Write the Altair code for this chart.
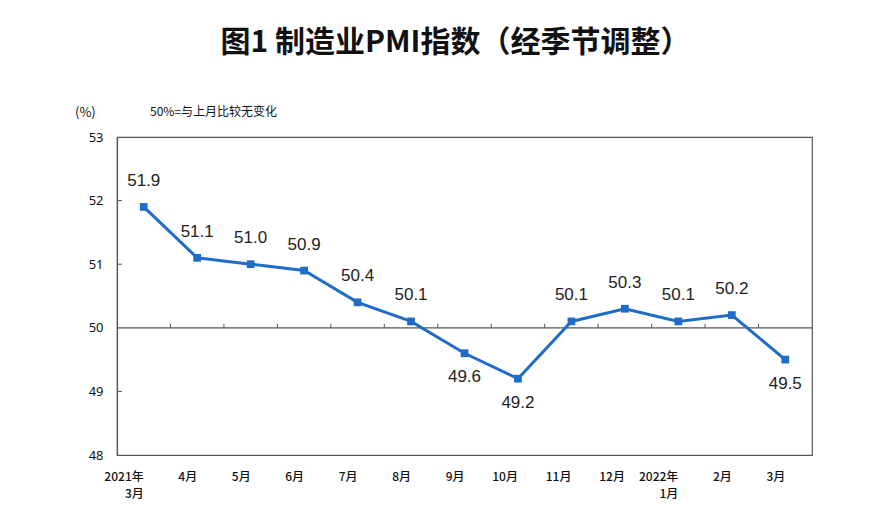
import altair as alt
import pandas as pd

months = ["2021年|3月", "4月", "5月", "6月", "7月", "8月", "9月", "10月", "11月", "12月", "2022年|1月", "2月", "3月"]
pmi = [51.9, 51.1, 51.0, 50.9, 50.4, 50.1, 49.6, 49.2, 50.1, 50.3, 50.1, 50.2, 49.5]
y_ticks = [48, 49, 50, 51, 52, 53]
inner_ticks = [49, 51, 52]
title_text = "图1 制造业PMI指数（经季节调整）"
unit_text = "(%)"
note_text = "50%=与上月比较无变化"

df = pd.DataFrame({"m": months, "v": pmi})
blue = "#1f6dc6"
cjk = "Noto Sans CJK SC"

yscale = alt.Scale(domain=[48, 53], nice=False, zero=False)
x = alt.X("m:N", sort=months, title=None,
          scale=alt.Scale(type="band", paddingInner=0, paddingOuter=0),
          axis=alt.Axis(labelAngle=0, domain=False, ticks=False, labelPadding=16,
                        labelExpr="split(datum.label, '|')", labelFont=cjk,
                        labelFontSize=12, labelFontWeight=500, labelColor="#111",
                        labelLineHeight=17, labelBaseline="top"))
yaxis = alt.Axis(values=y_ticks, format="d", domain=True, domainColor="#555", domainWidth=1.2,
                 ticks=False, grid=False, labelPadding=14, labelFont="Noto Sans",
                 labelFontSize=13, labelColor="#111")
y = alt.Y("v:Q", title=None, scale=yscale, axis=yaxis)

base = alt.Chart(df)

ref50 = alt.Chart(pd.DataFrame({"r": [50]})).mark_rule(color="#555", strokeWidth=1.2).encode(
    y=alt.Y("r:Q", title=None, scale=yscale, axis=yaxis))

bticks = alt.Chart(pd.DataFrame({"m": months[1:]})).mark_rule(color="#555", y2Offset=-4).encode(
    x=alt.X("m:N", sort=months, bandPosition=0), y=alt.datum(50), y2=alt.datum(50))

lticks = alt.Chart(pd.DataFrame({"t": inner_ticks})).mark_rule(color="#555").encode(
    y=alt.Y("t:Q"), x=alt.value(0), x2=alt.value(5))

line = base.mark_line(color=blue, strokeWidth=3).encode(x=x, y=y)
pts = base.mark_point(shape="square", filled=True, size=60, color=blue, opacity=1).encode(x=x, y=y)
lab_above = base.transform_filter("datum.v >= 50").mark_text(
    font="Liberation Sans", fontSize=17, color="#222", dy=-26).encode(
    x=x, y=y, text=alt.Text("v:Q", format=".1f"))
lab_below = base.transform_filter("datum.v < 50").mark_text(
    font="Liberation Sans", fontSize=17, color="#222", dy=24).encode(
    x=x, y=y, text=alt.Text("v:Q", format=".1f"))

unit = alt.Chart(pd.DataFrame({"t": [unit_text]})).mark_text(
    font=cjk, fontSize=13, align="left", baseline="middle", color="#111").encode(
    text="t:N", x=alt.value(-42), y=alt.value(-24))
note = alt.Chart(pd.DataFrame({"t": [note_text]})).mark_text(
    font=cjk, fontSize=12, align="left", baseline="middle", color="#111").encode(
    text="t:N", x=alt.value(33), y=alt.value(-25))

chart = alt.layer(ref50, bticks, lticks, line, pts, lab_above, lab_below, unit, note).properties(
    width=695, height=318,
    background="white",
    title=alt.Title(title_text, font=cjk, fontSize=30, fontWeight=600, anchor="middle",
                    color="#111", offset=48, dx=-9),
    autosize=alt.AutoSizeParams(type="none"),
    padding={"left": 117, "top": 137, "right": 64, "bottom": 75},
).configure_view(stroke="#555", strokeWidth=1.2)

chart.save("out.html", embed_options={"renderer": "svg", "actions": False})
